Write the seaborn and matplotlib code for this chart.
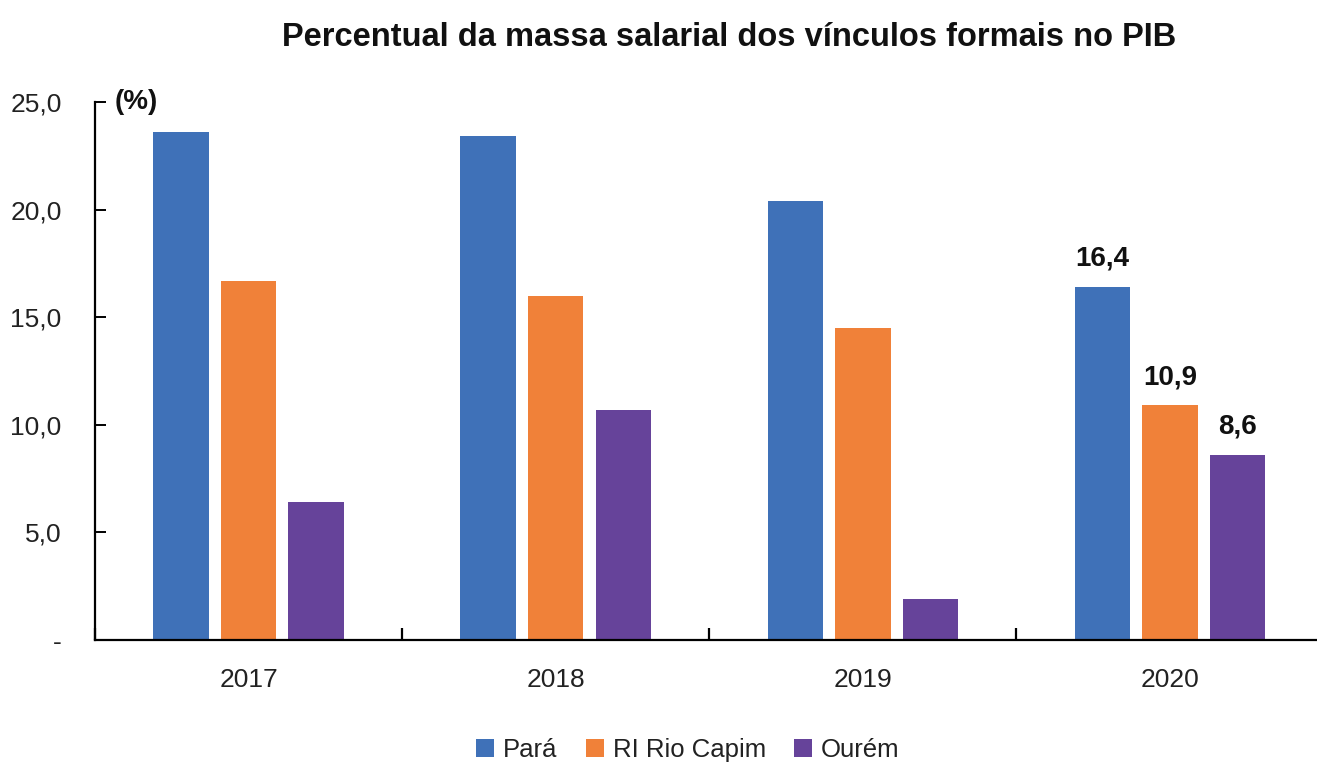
import matplotlib
matplotlib.use("Agg")
import matplotlib.pyplot as plt
import seaborn as sns
import pandas as pd
from matplotlib.ticker import FixedLocator
from matplotlib.patches import Patch

years = ["2017", "2018", "2019", "2020"]
series = ["Pará", "RI Rio Capim", "Ourém"]
para = [23.6, 23.4, 20.4, 16.4]
ri_rio_capim = [16.7, 16.0, 14.5, 10.9]
ourem = [6.4, 10.7, 1.9, 8.6]
colors = ["#3F71B8", "#F08139", "#66439A"]
ytick_vals = [0, 5, 10, 15, 20, 25]
ytick_labels = ["-", "5,0", "10,0", "15,0", "20,0", "25,0"]

rows = []
for name, vals in zip(series, [para, ri_rio_capim, ourem]):
    for y, v in zip(years, vals):
        rows.append({"Ano": y, "Série": name, "Valor": v})
df = pd.DataFrame(rows)

sns.set_theme(style="white")
font = ["Liberation Sans", "DejaVu Sans"]
plt.rcParams["font.family"] = font

fig = plt.figure(figsize=(13.17, 7.65), dpi=100)
ax = fig.add_axes([95/1317, 1-640/765, 1228.6/1317, (640-102)/765])

sns.barplot(data=df, x="Ano", y="Valor", hue="Série", order=years, hue_order=series,
            palette=colors, width=0.66, gap=0.18, ax=ax, legend=False,
            saturation=1, edgecolor="none", errorbar=None)

ax.set_xlim(-0.5, 3.5)
ax.set_ylim(0, 25)
ax.set_xlabel("")
ax.set_ylabel("")

for s in ["top", "right"]:
    ax.spines[s].set_visible(False)
for s in ["left", "bottom"]:
    ax.spines[s].set_color("black")
    ax.spines[s].set_linewidth(1.6)
ax.spines["bottom"].set_clip_on(False)

ax.set_yticks(ytick_vals)
ax.set_yticklabels(ytick_labels)
ax.tick_params(axis="y", direction="in", length=8, width=1.4, color="black",
               labelsize=19, labelcolor="#222222", pad=24, left=True)
ax.set_xticks(range(len(years)))
ax.set_xticklabels(years)
ax.tick_params(axis="x", which="major", length=0, labelsize=19, labelcolor="#222222", pad=20)
ax.xaxis.set_minor_locator(FixedLocator([-0.5, 0.5, 1.5, 2.5]))
ax.tick_params(axis="x", which="minor", direction="in", length=9, width=1.6,
               color="black", bottom=True)

# Data labels for 2020 only
for cont in ax.containers:
    labels = [""] * (len(years) - 1) + [f"{cont.datavalues[-1]:.1f}".replace(".", ",")]
    ax.bar_label(cont, labels=labels, padding=11, fontsize=20, fontweight="bold",
                 color="#111111")

ax.text(-0.435, 25.0, "(%)", fontsize=20, fontweight="bold", ha="left", va="center",
        color="#111111")

fig.text(729/1317, 1-38/765, "Percentual da massa salarial dos vínculos formais no PIB",
         ha="center", va="center", fontsize=23.5, fontweight="bold", color="#111111")

handles = [Patch(facecolor=c, edgecolor="none") for c in colors]
fig.legend(handles, series, loc="center", bbox_to_anchor=(688/1317, 1-750/765),
           ncol=3, frameon=False, fontsize=18.5, handlelength=0.7, handleheight=0.7,
           handletextpad=0.35, columnspacing=1.1, labelcolor="#222222")

fig.savefig("out.png", dpi=100)
